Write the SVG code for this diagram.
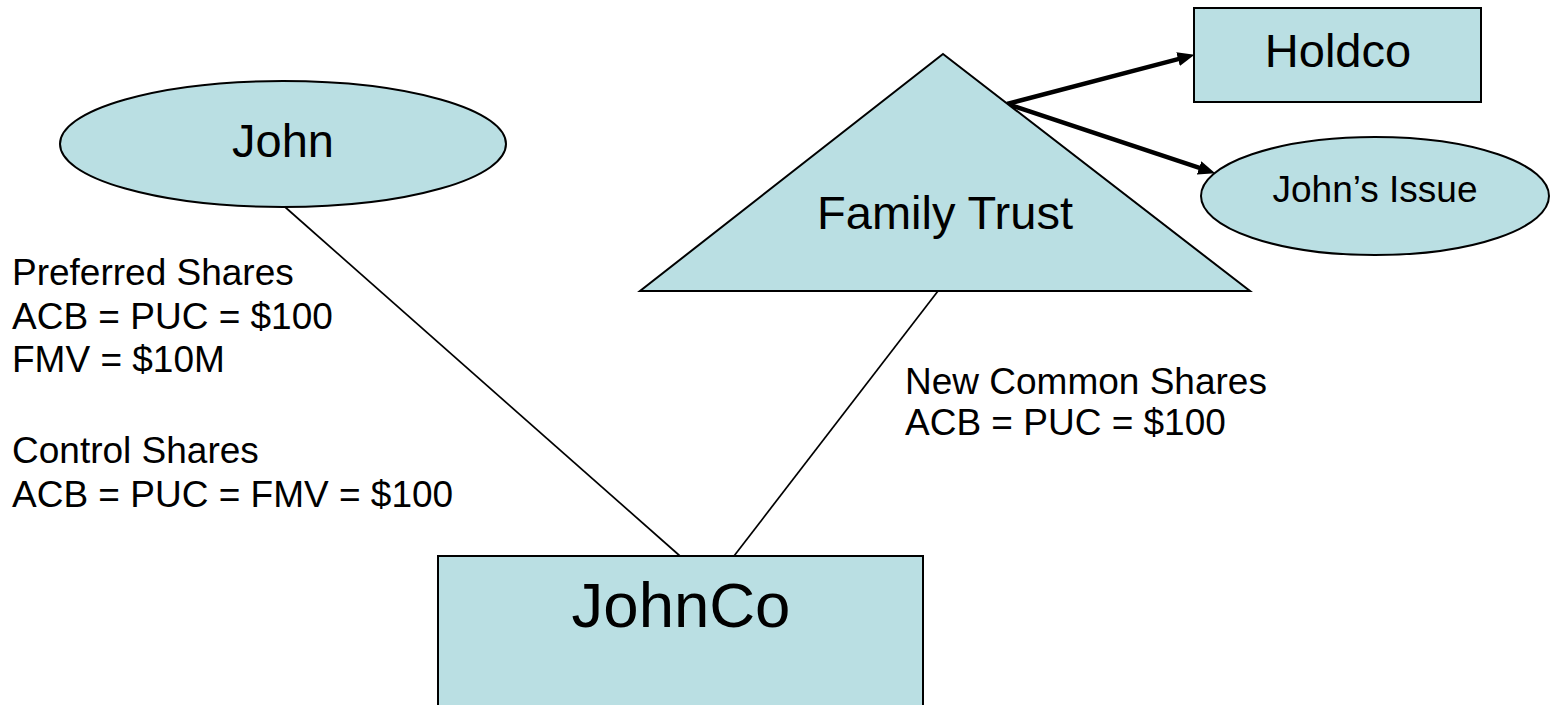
<svg xmlns="http://www.w3.org/2000/svg" width="1556" height="705" viewBox="0 0 1556 705">
  <defs>
    <style>
      .shape { fill: #BADFE3; stroke: #000; stroke-width: 2; }
      .lbl { font-family: "Liberation Sans", Arial, sans-serif; fill: #000; }
      .conn { stroke: #000; stroke-width: 1.7; fill: none; }
      .arrow { stroke: #000; stroke-width: 4.5; fill: none; marker-end: url(#head); }
    </style>
    <marker id="head" markerUnits="userSpaceOnUse" markerWidth="18" markerHeight="15" refX="2" refY="7" orient="auto">
      <path d="M0,0 L17,7 L0,14 z" fill="#000"/>
    </marker>
  </defs>
  <rect width="1556" height="705" fill="#fff"/>

  <g id="connectors">
    <line class="conn" x1="285" y1="207" x2="680" y2="556"/>
    <line class="conn" x1="938" y1="291" x2="734" y2="556"/>
    <line class="arrow" x1="1007" y1="104" x2="1180" y2="58.6"/>
    <line class="arrow" x1="1007" y1="104" x2="1201" y2="168.4"/>
  </g>

  <g id="john">
    <ellipse class="shape" cx="283" cy="144" rx="223" ry="63"/>
    <text class="lbl" x="283" y="157" font-size="47" text-anchor="middle">John</text>
  </g>

  <g id="family-trust">
    <polygon class="shape" points="943,54 1250,291 640,291"/>
    <text class="lbl" x="945" y="229" font-size="47" text-anchor="middle">Family Trust</text>
  </g>

  <g id="holdco">
    <rect class="shape" x="1194" y="8" width="287" height="94"/>
    <text class="lbl" x="1338" y="67" font-size="47" text-anchor="middle">Holdco</text>
  </g>

  <g id="johns-issue">
    <ellipse class="shape" cx="1375" cy="196" rx="174" ry="59"/>
    <text class="lbl" x="1375" y="202" font-size="37" text-anchor="middle">John’s Issue</text>
  </g>

  <g id="johnco">
    <rect class="shape" x="438" y="556" width="485" height="160"/>
    <text class="lbl" x="681" y="627" font-size="63.5" text-anchor="middle">JohnCo</text>
  </g>

  <g id="left-labels" class="lbl" font-size="37">
    <text x="12" y="285">Preferred Shares</text>
    <text x="12" y="329">ACB = PUC = $100</text>
    <text x="12" y="372">FMV = $10M</text>
    <text x="12" y="463">Control Shares</text>
    <text x="12" y="507">ACB = PUC = FMV = $100</text>
  </g>

  <g id="right-labels" class="lbl" font-size="37">
    <text x="905" y="394">New Common Shares</text>
    <text x="905" y="435">ACB = PUC = $100</text>
  </g>
</svg>
